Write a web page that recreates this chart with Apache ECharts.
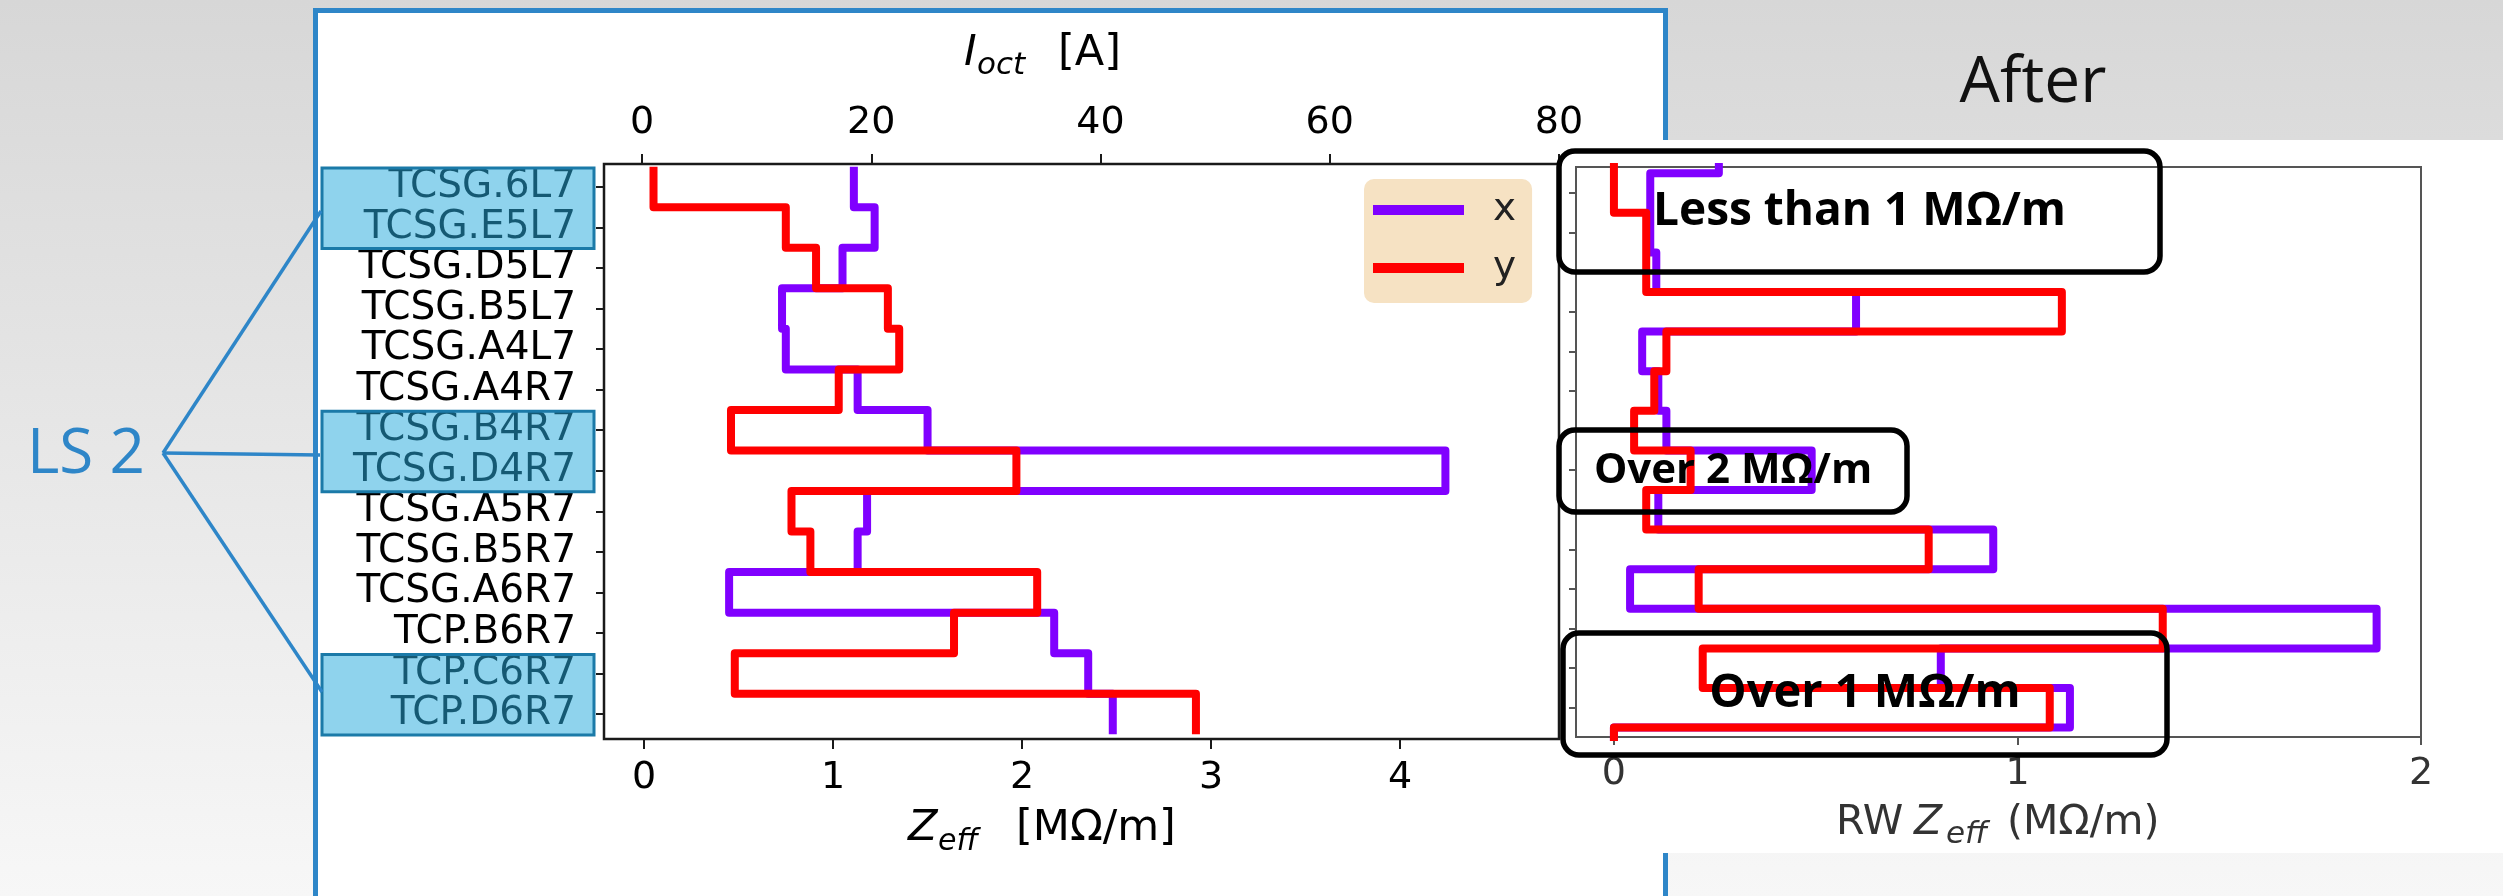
<!DOCTYPE html>
<html><head><meta charset="utf-8">
<script src="https://cdn.jsdelivr.net/npm/echarts@6/dist/echarts.min.js"></script>
<style>
html,body{margin:0;padding:0;width:2503px;height:896px;overflow:hidden;background:linear-gradient(#d7d7d7,#f7f7f7);}
#leftPanel{position:absolute;left:313px;top:8px;width:1345px;height:1000px;background:#fff;border:5px solid #2e86c8;}
#rightPanel{position:absolute;left:1560px;top:140px;width:943px;height:713px;background:#fff;}
#chart{position:absolute;left:0;top:0;width:2503px;height:896px;}
</style></head>
<body>
<div id="leftPanel"></div><div id="rightPanel"></div><div id="chart"></div>
<script>
// ---- data ----
const collimators = ['TCSG.6L7','TCSG.E5L7','TCSG.D5L7','TCSG.B5L7','TCSG.A4L7','TCSG.A4R7','TCSG.B4R7','TCSG.D4R7','TCSG.A5R7','TCSG.B5R7','TCSG.A6R7','TCP.B6R7','TCP.C6R7','TCP.D6R7'];
const zeffX = [1.11,1.22,1.05,0.73,0.75,1.13,1.50,4.24,1.18,1.13,0.45,2.17,2.35,2.48];
const zeffY = [0.05,0.75,0.91,1.29,1.35,1.03,0.46,1.97,0.78,0.88,2.08,1.64,0.48,2.92];
// "After" panel: first and last entries are the neighbours clipped by the frame
const rwX = [0.26,0.09,0.09,0.105,0.60,0.07,0.11,0.13,0.49,0.11,0.94,0.04,1.89,0.81,1.13,0.0];
const rwY = [0.00,0.00,0.08,0.08,1.11,0.13,0.10,0.05,0.19,0.08,0.78,0.21,1.36,0.22,1.08,0.0];
const zeffTicks = [0,1,2,3,4];
const ioctTicks = [0,20,40,60,80];
const rwTicks = [0,1,2];
const catTicks = collimators.map((c,i)=>i);
const highlighted = [[0,1],[6,7],[12,13]];
const seriesNames = ['x','y'];
const colors = ['#8000ff','#ff0000'];

function steps(vals, offset){
  const pts=[];
  vals.forEach((v,i)=>{const c=i+offset; pts.push([v,c-0.5],[v,c+0.5]);});
  return pts;
}

const chart = echarts.init(document.getElementById('chart'), null, {width:2503,height:896});
const tickFont = {fontFamily:'DejaVu Sans', fontSize:38, color:'#000'};
const noLine = {show:false, onZero:false};
const lineSeries = (name, data, xi, yi, color) => ({
  name, type:'line', xAxisIndex:xi, yAxisIndex:yi, data, symbol:'none', showSymbol:false,
  lineStyle:{color, width:8, join:'round'}, itemStyle:{color}, clip:true, animation:false
});

chart.setOption({
  backgroundColor:'transparent',
  animation:false,
  grid:[
    {left:604, top:164, width:955, height:575, show:true, borderColor:'#1a1a1a', borderWidth:2.5, backgroundColor:'transparent'},
    {left:1576, top:167, width:845, height:570, show:true, borderColor:'#555', borderWidth:2, backgroundColor:'transparent'}
  ],
  xAxis:[
    {gridIndex:0, type:'value', position:'bottom', min:-0.212, max:4.841,
     axisLine:noLine, splitLine:{show:false},
     axisTick:{customValues:zeffTicks, length:10, lineStyle:{color:'#1a1a1a', width:2}},
     axisLabel:Object.assign({customValues:zeffTicks, margin:20}, tickFont)},
    {gridIndex:0, type:'value', position:'top', min:-3.32, max:80,
     axisLine:noLine, splitLine:{show:false},
     axisTick:{customValues:ioctTicks, length:10, lineStyle:{color:'#1a1a1a', width:2}},
     axisLabel:Object.assign({customValues:ioctTicks, margin:22}, tickFont)},
    {gridIndex:1, type:'value', position:'bottom', min:-0.094, max:2,
     axisLine:noLine, splitLine:{show:false},
     axisTick:{customValues:rwTicks, length:8, lineStyle:{color:'#555', width:2}},
     axisLabel:{customValues:rwTicks, margin:18, fontFamily:'DejaVu Sans', fontSize:38, color:'#333'}}
  ],
  yAxis:[
    {gridIndex:0, type:'value', inverse:true, min:-0.567, max:13.617,
     axisLine:noLine, splitLine:{show:false},
     axisTick:{customValues:catTicks, length:8, lineStyle:{color:'#1a1a1a', width:2}},
     axisLabel:{customValues:catTicks, margin:28, fontSize:39, fontFamily:'DejaVu Sans', color:'#000',
       formatter:v=>collimators[Math.round(v)]}},
    {gridIndex:1, type:'value', inverse:true, min:-0.657, max:13.737,
     axisLine:noLine, splitLine:{show:false},
     axisTick:{customValues:catTicks, length:7, lineStyle:{color:'#555', width:2}},
     axisLabel:{show:false}}
  ],
  legend:{
    data:seriesNames, left:1364, top:179, orient:'vertical', icon:'rect',
    itemWidth:91, itemHeight:10, itemGap:14,
    backgroundColor:'#f6e2c3', borderRadius:10, padding:[9,16,13,9],
    textStyle:{fontFamily:'DejaVu Sans', fontSize:39, color:'#222', lineHeight:44, padding:[0,0,0,24]}
  },
  series:[
    lineSeries('x', steps(zeffX,0), 0, 0, colors[0]),
    lineSeries('y', steps(zeffY,0), 0, 0, colors[1]),
    lineSeries('x', steps(rwX,-1), 2, 1, colors[0]),
    lineSeries('y', steps(rwY,-1), 2, 1, colors[1])
  ]
});

// ---- annotations / slide decorations ----
const g = [];
highlighted.forEach(([a,b])=>{
  const y1 = chart.convertToPixel({yAxisIndex:0}, a) - 19;
  const y2 = chart.convertToPixel({yAxisIndex:0}, b) + 21;
  g.push({type:'rect', z:100, shape:{x:322, y:y1, width:272, height:y2-y1},
    style:{fill:'rgba(40,170,220,0.52)', stroke:'#1b7aa8', lineWidth:3}});
});
const blue = '#2e86c8';
g.push({type:'text', z:100, x:27, y:455, style:{text:'LS 2', font:'normal 62px "Open Sans"', fill:blue, textAlign:'left', textVerticalAlign:'middle', align:'left', verticalAlign:'middle'}});
[[321,211],[320,455],[322,692]].forEach(([x,y])=>{
  g.push({type:'line', z:100, shape:{x1:163, y1:453, x2:x, y2:y}, style:{stroke:blue, lineWidth:3.5}});
});
g.push({type:'text', z:100, x:2033, y:84, style:{text:'After', font:'normal 64px "Open Sans"', fill:'#111', textAlign:'center', textVerticalAlign:'middle', align:'center', verticalAlign:'middle'}});

function txt(text, x, y, font, fill, align){
  g.push({type:'text', z:100, x, y, style:{text, font, fill:fill||'#000', textAlign:align||'left', textVerticalAlign:'middle', align:align||'left', verticalAlign:'middle'}});
}
// top axis title: I_oct [A]
txt('I', 964, 54, 'italic 43px "DejaVu Sans"');
txt('oct', 977, 66, 'italic 31px "DejaVu Sans"');
txt('[A]', 1058, 54, 'normal 43px "DejaVu Sans"');
// bottom axis title: Z_eff [MΩ/m]
txt('Z', 908, 829, 'italic 43px "DejaVu Sans"');
txt('eff', 938, 842, 'italic 30px "DejaVu Sans"');
txt('[MΩ/m]', 1016, 829, 'normal 43px "DejaVu Sans"');
// right axis title: RW Z_eff (MΩ/m)
txt('RW', 1836, 823, 'normal 41px "DejaVu Sans"', '#333');
txt('Z', 1914, 823, 'italic 41px "DejaVu Sans"', '#333');
txt('eff', 1946, 835, 'italic 31px "DejaVu Sans"', '#333');
txt('(MΩ/m)', 2007, 823, 'normal 41px "DejaVu Sans"', '#333');

// annotation boxes
[[1559,151,601,121,'Less than 1 MΩ/m',46],[1559,430,348,82,'Over 2 MΩ/m',42],[1563,633,604,122,'Over 1 MΩ/m',47]].forEach(([x,y,w,h,t,fs])=>{
  g.push({type:'rect', z:110, shape:{x, y, width:w, height:h, r:16}, style:{fill:'none', stroke:'#000', lineWidth:5.5}});
  g.push({type:'text', z:111, x:x+w/2, y:y+h/2, style:{text:t, font:'bold '+fs+'px "Open Sans"', fill:'#000', textAlign:'center', textVerticalAlign:'middle', align:'center', verticalAlign:'middle'}});
});
chart.setOption({graphic:g});
</script>
</body></html>
